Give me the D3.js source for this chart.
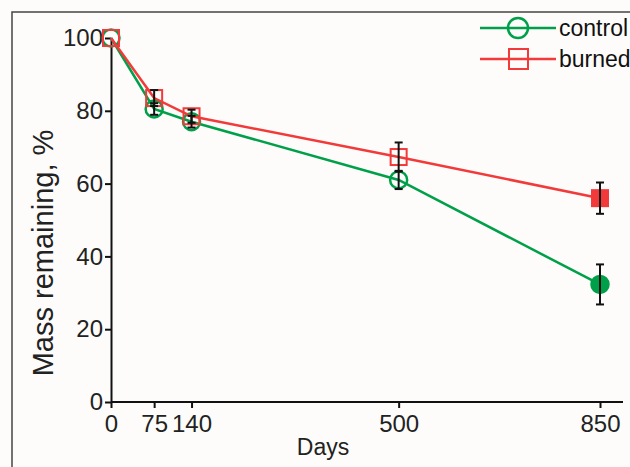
<!DOCTYPE html>
<html>
<head>
<meta charset="utf-8">
<script src="https://cdn.jsdelivr.net/npm/d3@7"></script>
<style>
  body { margin: 0; background: #fdfcfa; }
  svg { display: block; font-family: 'Liberation Sans', Arial, sans-serif; }
</style>
</head>
<body>
<svg id="chart" width="630" height="467"></svg>
<script>
// data
const days = [0, 75, 140, 500, 850]
const control = [100, 80.5, 77, 61, 32.3]
const controlErr = [0.8, 1.6, 1.6, 2.5, 5.5]
const burned = [100, 83.5, 78.5, 67.3, 56]
const burnedErr = [0.8, 2.2, 1.8, 4, 4.3]
const xTicks = [0, 75, 140, 500, 850]
const yTicks = [0, 20, 40, 60, 80, 100]

const green = '#00a04a'
const red = '#f23a3a'

const svg = d3.select('#chart')
const width = 630
const height = 467

// outer frame (top + left only visible)
svg.append('path')
  .attr('d', `M12,${height} L12,12 L${width},12`)
  .attr('fill', 'none')
  .attr('stroke', '#444')
  .attr('stroke-width', 1.5)

const x = d3.scaleLinear().domain([0, 850]).range([111, 600])
const y = d3.scaleLinear().domain([0, 100]).range([402, 38])

// axes
const xAxis = svg.append('g')
  .attr('transform', `translate(0,${y(0)})`)
  .call(d3.axisBottom(x).tickValues(xTicks).tickSize(6).tickPadding(7).tickSizeOuter(0))
xAxis.select('.domain').attr('d', `M${x(0)},0H623`)
const yAxis = svg.append('g')
  .attr('transform', `translate(${x(0)},0)`)
  .call(d3.axisLeft(y).tickValues(yTicks).tickSize(6).tickPadding(2).tickSizeOuter(0))

svg.selectAll('.domain').attr('stroke', '#111').attr('stroke-width', 2)
svg.selectAll('.tick line').attr('stroke', '#111').attr('stroke-width', 2)
svg.selectAll('.tick text').attr('font-size', 24).attr('fill', '#222')
  .attr('font-family', "'Liberation Sans', Arial, sans-serif")
xAxis.selectAll('.tick text').attr('dy', '0.72em')

// axis titles
svg.append('text')
  .attr('transform', 'translate(53,253) rotate(-90)')
  .attr('text-anchor', 'middle')
  .attr('font-size', 29)
  .attr('fill', '#222')
  .text('Mass remaining, %')
svg.append('text')
  .attr('x', 323)
  .attr('y', 455)
  .attr('text-anchor', 'middle')
  .attr('font-size', 23)
  .attr('fill', '#222')
  .text('Days')

const line = d3.line().x((d, i) => x(days[i])).y(d => y(d))

function series (vals, errs, color, shape) {
  const g = svg.append('g')
  g.append('path')
    .datum(vals)
    .attr('d', line)
    .attr('fill', 'none')
    .attr('stroke', color)
    .attr('stroke-width', 2.5)
  const pts = vals.map((v, i) => ({ x: days[i], v, e: errs[i], last: i === vals.length - 1 }))
  if (shape === 'circle') {
    g.selectAll('circle').data(pts).join('circle')
      .attr('cx', d => x(d.x))
      .attr('cy', d => y(d.v))
      .attr('r', 8.5)
      .attr('fill', d => d.last ? color : 'none')
      .attr('stroke', color)
      .attr('stroke-width', 2.5)
  } else {
    g.selectAll('rect').data(pts).join('rect')
      .attr('x', d => x(d.x) - 8)
      .attr('y', d => y(d.v) - 8)
      .attr('width', 16)
      .attr('height', 16)
      .attr('fill', d => d.last ? color : 'none')
      .attr('stroke', color)
      .attr('stroke-width', 2)
  }
  return pts
}

const cPts = series(control, controlErr, green, 'circle')
const bPts = series(burned, burnedErr, red, 'rect')

// error bars
const eb = svg.append('g').attr('stroke', '#111').attr('stroke-width', 2)
;[...cPts, ...bPts].filter(d => d.x > 0).forEach(d => {
  const cx = x(d.x)
  const y1 = y(d.v + d.e)
  const y2 = y(d.v - d.e)
  eb.append('line').attr('x1', cx).attr('x2', cx).attr('y1', y1).attr('y2', y2)
  eb.append('line').attr('x1', cx - 4).attr('x2', cx + 4).attr('y1', y1).attr('y2', y1)
  eb.append('line').attr('x1', cx - 4).attr('x2', cx + 4).attr('y1', y2).attr('y2', y2)
})

// legend
const legend = [
  { name: 'control', color: green, shape: 'circle', y: 28 },
  { name: 'burned', color: red, shape: 'rect', y: 59 }
]
const lg = svg.append('g')
legend.forEach(l => {
  lg.append('line')
    .attr('x1', 480).attr('x2', 556)
    .attr('y1', l.y).attr('y2', l.y)
    .attr('stroke', l.color).attr('stroke-width', 2.5)
  if (l.shape === 'circle') {
    lg.append('circle').attr('cx', 518).attr('cy', l.y).attr('r', 10)
      .attr('fill', 'none').attr('stroke', l.color).attr('stroke-width', 2.5)
  } else {
    lg.append('rect').attr('x', 509).attr('y', l.y - 10).attr('width', 19).attr('height', 20)
      .attr('fill', 'none').attr('stroke', l.color).attr('stroke-width', 2)
  }
  lg.append('text')
    .attr('x', 559).attr('y', l.y + 8)
    .attr('font-size', 23)
    .attr('fill', '#111')
    .text(l.name)
})
</script>
</body>
</html>
